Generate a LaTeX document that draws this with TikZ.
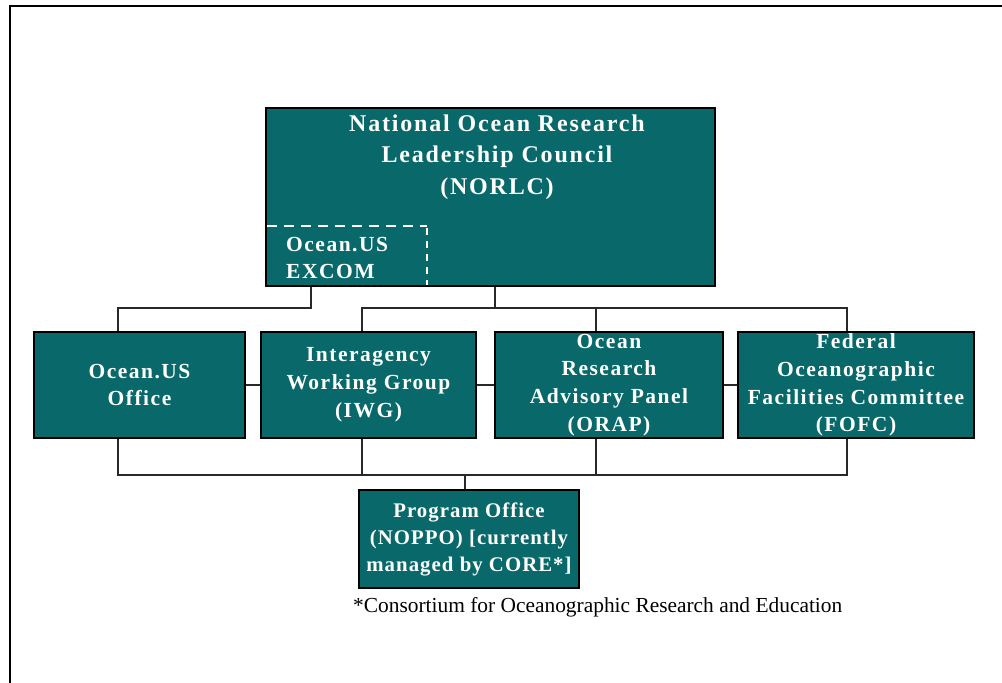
\documentclass[tikz,border=0pt]{standalone}
\usepackage{fontspec}
\setmainfont{Liberation Serif}
\newfontfamily\boxfont[LetterSpace=7]{Liberation Serif}
\newfontfamily\progfont[LetterSpace=5]{Liberation Serif}
\newfontfamily\topfont[LetterSpace=7.5]{Liberation Serif}
\definecolor{teal0}{RGB}{8,104,106}
\definecolor{linkgray}{RGB}{40,40,40}
\begin{document}
\begin{tikzpicture}[x=1pt,y=-1pt,
  orgbox/.style={draw=black, line width=2pt, fill=teal0, text=white, inner sep=0pt,
    align=center, font=\boxfont\bfseries\fontsize{21.5}{27.8}\selectfont},
  boxtext/.style={text=white, inner sep=0pt, font=\boxfont\bfseries\fontsize{21.5}{27.5}\selectfont},
  link/.style={draw=linkgray, line width=1.3pt},
  dashline/.style={draw=white, line width=2pt}]
\useasboundingbox (0,0) rectangle (1002,683);
\fill[white] (0,0) rectangle (1002,683);
\draw[line width=2pt] (1002,5.8) -- (10.2,5.8) -- (10.2,683);

% top box
\node[orgbox, minimum width=449pt, minimum height=178pt] (norlc) at (490.5,197) {};
\node[boxtext, align=center, font=\topfont\bfseries\fontsize{24}{31.5}\selectfont] (norlct) at (497,157)
  {National Ocean Research\\Leadership Council\\(NORLC)};
\draw[dashline, dash pattern=on 10pt off 7pt] (267,226) -- (427,226);
\draw[dashline, dash pattern=on 7pt off 6pt] (427,228) -- (427,285);
\node[boxtext, align=left, anchor=west] (excom) at (286,258) {Ocean.US\\EXCOM};

% second row
\node[orgbox, minimum width=211pt, minimum height=106pt] (office) at (139.5,385) {Ocean.US\\Office};
\node[orgbox, minimum width=215pt, minimum height=106pt] (iwg) at (368.5,385) {Interagency\\Working Group\\(IWG)};
\node[orgbox, minimum width=228pt, minimum height=106pt] (orap) at (609,385) {Ocean\\Research\\Advisory Panel\\(ORAP)};
\node[orgbox, minimum width=236pt, minimum height=106pt] (fofc) at (856,385) {Federal\\Oceanographic\\Facilities Committee\\(FOFC)};

% program office
\node[orgbox, minimum width=220pt, minimum height=98pt, font=\progfont\bfseries\fontsize{20.8}{27}\selectfont] (prog) at (469,539) {Program Office\\(NOPPO) [currently\\managed by CORE*]};

% footnote
\node[anchor=base west, inner sep=0pt, font=\fontsize{21.4}{25}\selectfont] (note) at (353,612)
  {*Consortium for Oceanographic Research and Education};

% junction coordinates
\coordinate (j1) at (311,308);
\coordinate (j2) at (118,308);
\coordinate (t0) at (495,308);
\coordinate (t2) at (362,308);
\coordinate (t3) at (596,308);
\coordinate (t4) at (847,308);
\coordinate (b1) at (118,475);
\coordinate (b2) at (362,475);
\coordinate (b3) at (596,475);
\coordinate (b4) at (847,475);
\coordinate (bp) at (465,475);

% connectors
\draw[link] (j1 |- norlc.south) -- (j1) -- (j2) -- (j2 |- office.north);
\draw[link] (t0 |- norlc.south) -- (t0);
\draw[link] (t2 |- iwg.north) -- (t2) -- (t4) -- (t4 |- fofc.north);
\draw[link] (t3) -- (t3 |- orap.north);
\draw[link] (office.east) -- (iwg.west);
\draw[link] (iwg.east) -- (orap.west);
\draw[link] (orap.east) -- (fofc.west);
\draw[link] (b1 |- office.south) -- (b1) -- (b4) -- (b4 |- fofc.south);
\draw[link] (b2 |- iwg.south) -- (b2);
\draw[link] (b3 |- orap.south) -- (b3);
\draw[link] (bp) -- (bp |- prog.north);
\end{tikzpicture}
\end{document}
